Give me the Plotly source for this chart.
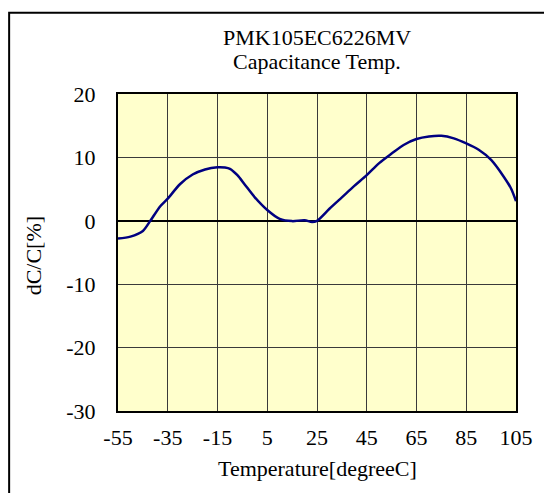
import plotly.graph_objects as go

temps = [-55, -50, -45, -42, -38, -35, -30, -25, -20, -15, -12, -10, -7, -4, 0, 5, 10, 15, 20, 23, 25,
         30, 35, 40, 45, 50, 55, 60, 65, 70, 75, 80, 85, 90, 95, 100, 103, 105]
dcc = [-2.8, -2.5, -1.6, 0.0, 2.3, 3.5, 5.8, 7.3, 8.1, 8.45, 8.4, 8.2, 7.2, 5.7, 3.7, 1.7, 0.3, -0.05, 0.1, -0.2, 0.0,
       1.9, 3.7, 5.5, 7.2, 9.1, 10.6, 12.0, 12.9, 13.3, 13.4, 13.0, 12.2, 11.2, 9.6, 7.0, 5.1, 3.1]

x_ticks = [-55, -35, -15, 5, 25, 45, 65, 85, 105]
y_ticks = [-30, -20, -10, 0, 10, 20]

title_line1 = "PMK105EC6226MV"
title_line2 = "Capacitance Temp."
x_title = "Temperature[degreeC]"
y_title = "dC/C[%]"

FONT = "Liberation Serif"
FS = 22

fig = go.Figure()
fig.add_trace(go.Scatter(
    x=temps, y=dcc, mode="lines",
    line=dict(color="#000080", width=2.5, shape="spline", smoothing=0.8),
    cliponaxis=False, hoverinfo="skip", showlegend=False,
))

L, R, T, B = 118, 27.5, 93.5, 82
pw = 544 - L - R
ph = 493 - T - B
bottom_px = 493 - B

def py(px):
    return (bottom_px - px) / ph

def px_(p):
    return (p - L) / pw

fig.update_layout(
    width=544, height=493,
    margin=dict(l=L, r=R, t=T, b=B, pad=0),
    paper_bgcolor="white",
    plot_bgcolor="#FFFFCC",
    font=dict(family=FONT, size=FS, color="black"),
    showlegend=False,
    xaxis=dict(
        range=[-55, 105], tickmode="array", tickvals=x_ticks,
        ticktext=[str(v) for v in x_ticks],
        showgrid=True, gridcolor="#3a3a3a", gridwidth=1,
        zeroline=False, showline=True, linecolor="black", linewidth=2, mirror=True,
        ticks="", ticklabelstandoff=6, tickfont=dict(family=FONT, size=FS, color="black"),
    ),
    yaxis=dict(
        range=[-30, 20], tickmode="array", tickvals=y_ticks,
        ticktext=[str(v) for v in y_ticks],
        showgrid=True, gridcolor="#3a3a3a", gridwidth=1,
        zeroline=True, zerolinecolor="black", zerolinewidth=1.5,
        showline=True, linecolor="black", linewidth=2, mirror=True,
        ticks="", ticklabelstandoff=16, tickfont=dict(family=FONT, size=FS, color="black"),
    ),
    annotations=[
        dict(text=title_line1, xref="paper", yref="paper", x=0.5,
             y=py(36.5), yanchor="middle", xanchor="center",
             showarrow=False, font=dict(family=FONT, size=FS)),
        dict(text=title_line2, xref="paper", yref="paper", x=0.5,
             y=py(61), yanchor="middle", xanchor="center",
             showarrow=False, font=dict(family=FONT, size=FS)),
        dict(text=x_title, xref="paper", yref="paper", x=0.5,
             y=py(469), yanchor="middle", xanchor="center",
             showarrow=False, font=dict(family=FONT, size=FS)),
        dict(text=y_title, xref="paper", yref="paper",
             x=px_(33), y=py(256), textangle=-90,
             xanchor="center", yanchor="middle",
             showarrow=False, font=dict(family=FONT, size=FS)),
    ],
    shapes=[
        dict(type="rect", xref="paper", yref="paper",
             x0=px_(9), x1=px_(560),
             y0=py(510), y1=py(12),
             line=dict(color="black", width=2), fillcolor="rgba(0,0,0,0)", layer="below"),
    ],
)

fig.write_html("out.html", config={"displayModeBar": False},
               post_script="document.body.style.margin='0';document.body.style.overflow='hidden';")
